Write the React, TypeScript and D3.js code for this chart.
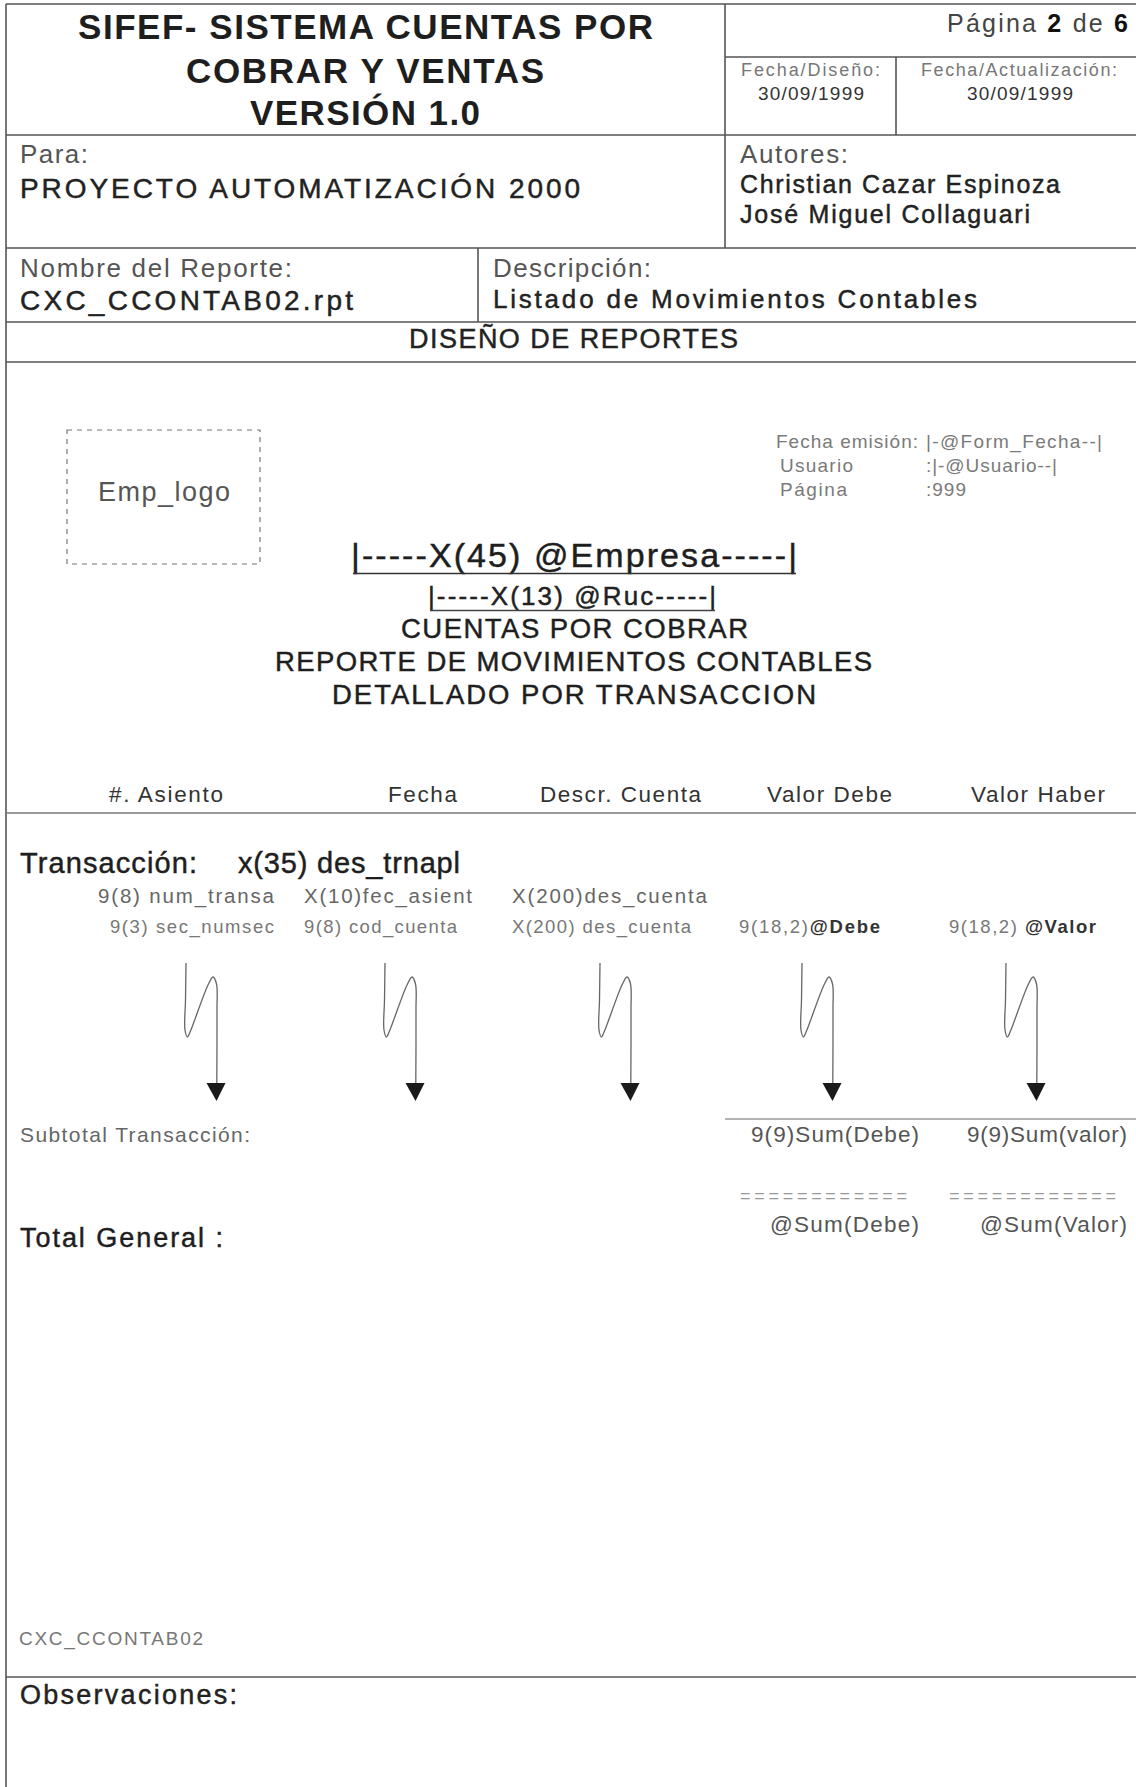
import React from "react";
import * as d3 from "d3";

// ---------- content (text values) ----------
const titleLines = ["SIFEF- SISTEMA CUENTAS POR", "COBRAR Y VENTAS", "VERSIÓN 1.0"];
const pageParts = ["Página ", "2", " de ", "6"];
const dateLabels = ["Fecha/Diseño:", "Fecha/Actualización:"];
const dateValues = ["30/09/1999", "30/09/1999"];
const forLabel = "Para:";
const projectName = "PROYECTO AUTOMATIZACIÓN 2000";
const authorsLabel = "Autores:";
const authors = ["Christian Cazar Espinoza", "José Miguel Collaguari"];
const reportNameLabel = "Nombre del Reporte:";
const reportName = "CXC_CCONTAB02.rpt";
const descLabel = "Descripción:";
const descText = "Listado de Movimientos Contables";
const sectionTitle = "DISEÑO DE REPORTES";
const logoText = "Emp_logo";
const infoLabels = ["Fecha emisión:", "Usuario", "Página"];
const infoValues = ["|-@Form_Fecha--|", ":|-@Usuario--|", ":999"];
const companyLine = "|-----X(45)  @Empresa-----|";
const rucLine = "|-----X(13)  @Ruc-----|";
const reportTitleLines = ["CUENTAS POR COBRAR", "REPORTE DE MOVIMIENTOS CONTABLES", "DETALLADO POR  TRANSACCION"];
const columnHeaders = ["#. Asiento", "Fecha", "Descr. Cuenta", "Valor Debe", "Valor Haber"];
const groupLabel = "Transacción:";
const groupField = "x(35) des_trnapl";
const detailRow1 = ["9(8) num_transa", "X(10)fec_asient", "X(200)des_cuenta"];
const detailRow2Plain = ["9(3) sec_numsec", "9(8) cod_cuenta", "X(200) des_cuenta", "9(18,2)", "9(18,2) "];
const detailRow2Bold = ["", "", "", "@Debe", "@Valor"];
const subtotalLabel = "Subtotal Transacción:";
const subtotalFields = ["9(9)Sum(Debe)", "9(9)Sum(valor)"];
const separatorFields = ["============", "============"];
const totalFields = ["@Sum(Debe)", "@Sum(Valor)"];
const totalLabel = "Total General :";
const footerCode = "CXC_CCONTAB02";
const obsLabel = "Observaciones:";

// ---------- layout ----------
const W = 1136;
const H = 1787;
const FONT = "'Liberation Sans', Arial, Helvetica, sans-serif";

const titleLayout = [
  { x: 78, y: 39, w: 575 },
  { x: 186, y: 83, w: 358 },
  { x: 250, y: 125, w: 230 },
];
const dateLayoutX = [741, 921];
const dateLayoutW = [139, 196];
const dateValX = [758, 967];
const authorLayout = [
  { y: 193, w: 320 },
  { y: 223, w: 290 },
];
const infoLayout = [
  { lx: 776, lw: 142, vx: 926, vw: 176, y: 448 },
  { lx: 780, lw: 73, vx: 926, vw: 131, y: 472 },
  { lx: 780, lw: 67, vx: 926, vw: 40, y: 496 },
];
const reportTitleLayout = [
  { x: 401, y: 638, w: 347 },
  { x: 275, y: 671, w: 597 },
  { x: 332, y: 704, w: 484 },
];
const colHeaderX = d3.scaleOrdinal<string, number>().domain(columnHeaders).range([109, 388, 540, 767, 971]);
const colHeaderW = d3.scaleOrdinal<string, number>().domain(columnHeaders).range([114, 69, 161, 125, 134]);
const row1X = [98, 304, 512];
const row1W = [176, 168, 195];
const row2X = [110, 304, 512, 739, 949];
const row2W = [164, 153, 179, 141, 147];
const arrowTipX = d3.scaleOrdinal<number, number>().domain([0, 1, 2, 3, 4]).range([216, 415, 630, 832, 1036]);
const subX = [751, 967];
const subW = [168, 160];
const sepX = [740, 949];
const totX = [770, 980];
const totW = [149, 147];

type TProps = {
  x: number;
  y: number;
  w?: number;
  size: number;
  fill?: string;
  weight?: string | number;
  heavy?: boolean;
  children: React.ReactNode;
};

function T({ x, y, w, size, fill = "#222", weight = "normal", heavy = false, children }: TProps) {
  return (
    <text
      x={x}
      y={y}
      fontSize={size}
      fill={fill}
      fontWeight={weight}
      fontFamily={FONT}
      textLength={w}
      lengthAdjust={w ? "spacing" : undefined}
      stroke={heavy ? fill : "none"}
      strokeWidth={heavy ? 0.45 : 0}
    >
      {children}
    </text>
  );
}

// squiggle arrow shape relative to the tip
const squiggle = d3.line<[number, number]>().curve(d3.curveCatmullRom.alpha(0.5));
function arrowPath(tx: number): string {
  const pts: [number, number][] = [
    [tx - 30, 963],
    [tx - 30.5, 1000],
    [tx - 31, 1030],
    [tx - 28.5, 1037],
    [tx - 25.5, 1031],
    [tx - 8, 985],
    [tx - 3, 977],
    [tx + 0.5, 984],
    [tx + 1, 1010],
    [tx + 0.8, 1084],
  ];
  return squiggle(pts) || "";
}

export default function App() {
  const line = "#555";
  return (
    <svg
      width={W}
      height={H}
      viewBox={`0 0 ${W} ${H}`}
      style={{ position: "absolute", left: 0, top: 0, display: "block", background: "#fff" }}
    >
      <rect x={0} y={0} width={W} height={H} fill="#fff" />

      {/* frame lines */}
      <g stroke={line} strokeWidth={1.6} fill="none">
        <line x1={6} y1={4} x2={W} y2={4} />
        <line x1={6} y1={4} x2={6} y2={H} />
        <line x1={725} y1={4} x2={725} y2={248} />
        <line x1={725} y1={57} x2={W} y2={57} />
        <line x1={896} y1={57} x2={896} y2={135} />
        <line x1={6} y1={135} x2={W} y2={135} />
        <line x1={6} y1={248} x2={W} y2={248} />
        <line x1={478} y1={248} x2={478} y2={322} />
        <line x1={6} y1={322} x2={W} y2={322} />
        <line x1={6} y1={362} x2={W} y2={362} />
        <line x1={6} y1={813} x2={W} y2={813} stroke="#777" />
        <line x1={725} y1={1119} x2={W} y2={1119} stroke="#999" strokeWidth={1.3} />
        <line x1={6} y1={1677} x2={W} y2={1677} />
      </g>

      {/* header title */}
      {titleLines.map((t, i) => (
        <T key={t} x={titleLayout[i].x} y={titleLayout[i].y} w={titleLayout[i].w} size={35} weight="bold" fill="#1e1e1e">
          {t}
        </T>
      ))}

      {/* page x of y */}
      <text x={947} y={32} fontSize={25} fontFamily={FONT} fill="#444" textLength={181} lengthAdjust="spacing">
        <tspan>{pageParts[0]}</tspan>
        <tspan fontWeight="bold" fill="#111">{pageParts[1]}</tspan>
        <tspan>{pageParts[2]}</tspan>
        <tspan fontWeight="bold" fill="#111">{pageParts[3]}</tspan>
      </text>

      {dateLabels.map((t, i) => (
        <T key={t} x={dateLayoutX[i]} y={76} w={dateLayoutW[i]} size={18} fill="#777">
          {t}
        </T>
      ))}
      {dateValues.map((t, i) => (
        <T key={i} x={dateValX[i]} y={100} w={106} size={19} fill="#333">
          {t}
        </T>
      ))}

      <T x={20} y={163} w={68} size={26} fill="#555">{forLabel}</T>
      <T x={20} y={198} w={560} size={28} fill="#222" heavy>{projectName}</T>
      <T x={740} y={163} w={108} size={26} fill="#555">{authorsLabel}</T>
      {authors.map((a, i) => (
        <T key={a} x={740} y={authorLayout[i].y} w={authorLayout[i].w} size={25} fill="#222" heavy>
          {a}
        </T>
      ))}
      <T x={20} y={277} w={272} size={26} fill="#555">{reportNameLabel}</T>
      <T x={20} y={310} w={333} size={28} fill="#222" heavy>{reportName}</T>
      <T x={493} y={277} w={158} size={26} fill="#555">{descLabel}</T>
      <T x={493} y={308} w={484} size={26} fill="#222" heavy>{descText}</T>
      <T x={409} y={348} w={329} size={27} fill="#222" heavy>{sectionTitle}</T>

      {/* logo placeholder */}
      <rect x={67} y={430} width={193} height={134} fill="none" stroke="#777" strokeWidth={1.2} strokeDasharray="5 5" />
      <T x={98} y={501} w={132} size={27} fill="#555">{logoText}</T>

      {/* emission info */}
      {infoLabels.map((l, i) => (
        <g key={l}>
          <T x={infoLayout[i].lx} y={infoLayout[i].y} w={infoLayout[i].lw} size={19} fill="#7a7a7a">{l}</T>
          <T x={infoLayout[i].vx} y={infoLayout[i].y} w={infoLayout[i].vw} size={19} fill="#7a7a7a">{infoValues[i]}</T>
        </g>
      ))}

      {/* company / ruc */}
      <T x={351} y={567} w={446} size={34} fill="#1e1e1e" heavy>{companyLine}</T>
      <line x1={353} y1={573.5} x2={796} y2={573.5} stroke="#333" strokeWidth={1.6} />
      <T x={428} y={605} w={288} size={26} fill="#222" heavy>{rucLine}</T>
      <line x1={430} y1={610.5} x2={715} y2={610.5} stroke="#444" strokeWidth={1.3} />

      {reportTitleLines.map((t, i) => (
        <T key={t} x={reportTitleLayout[i].x} y={reportTitleLayout[i].y} w={reportTitleLayout[i].w} size={27.5} fill="#1e1e1e" heavy>
          {t}
        </T>
      ))}

      {/* column headers */}
      {columnHeaders.map((h) => (
        <T key={h} x={colHeaderX(h)} y={802} w={colHeaderW(h)} size={22.5} fill="#333">
          {h}
        </T>
      ))}

      {/* group */}
      <T x={20} y={873} w={177} size={29} fill="#1e1e1e" heavy>{groupLabel}</T>
      <T x={238} y={873} w={222} size={29} fill="#1e1e1e" heavy>{groupField}</T>

      {detailRow1.map((t, i) => (
        <T key={t} x={row1X[i]} y={903} w={row1W[i]} size={20.5} fill="#666">{t}</T>
      ))}
      {detailRow2Plain.map((t, i) => (
        <text key={i} x={row2X[i]} y={933} fontSize={18.5} fontFamily={FONT} fill="#777" textLength={row2W[i]} lengthAdjust="spacing">
          <tspan>{t}</tspan>
          {detailRow2Bold[i] ? (
            <tspan fontWeight="bold" fill="#333">{detailRow2Bold[i]}</tspan>
          ) : null}
        </text>
      ))}

      {/* squiggle arrows */}
      {columnHeaders.map((_, i) => {
        const tx = arrowTipX(i);
        return (
          <g key={i}>
            <path d={arrowPath(tx)} fill="none" stroke="#666" strokeWidth={1.3} />
            <path d={`M${tx - 9.5},1083 L${tx + 9.5},1083 L${tx + 0.5},1101 Z`} fill="#1a1a1a" />
          </g>
        );
      })}

      {/* subtotal */}
      <T x={20} y={1142} w={230} size={21} fill="#666">{subtotalLabel}</T>
      {subtotalFields.map((t, i) => (
        <T key={t} x={subX[i]} y={1142} w={subW[i]} size={22.5} fill="#555">{t}</T>
      ))}
      {separatorFields.map((t, i) => (
        <T key={i} x={sepX[i]} y={1202} w={167} size={18} fill="#999">{t}</T>
      ))}
      {totalFields.map((t, i) => (
        <T key={t} x={totX[i]} y={1232} w={totW[i]} size={22.5} fill="#555">{t}</T>
      ))}
      <T x={20} y={1247} w={203} size={27} fill="#1e1e1e" heavy>{totalLabel}</T>

      <T x={19} y={1645} w={184} size={19} fill="#777">{footerCode}</T>
      <T x={20} y={1704} w={217} size={27} fill="#222" heavy>{obsLabel}</T>
    </svg>
  );
}
